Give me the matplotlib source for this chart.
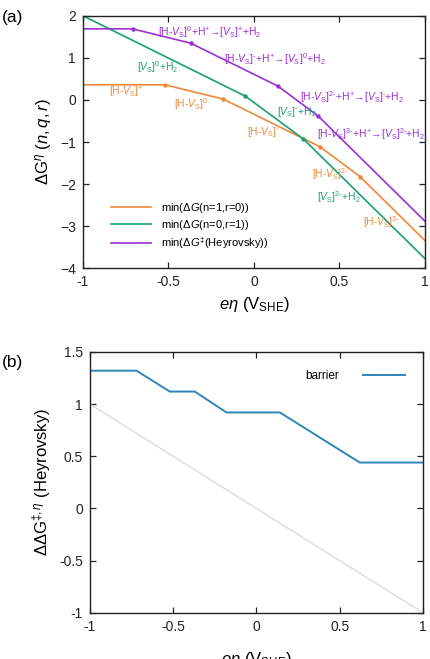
import matplotlib
matplotlib.use("Agg")
from matplotlib import pyplot as plt

plt.rcParams['font.family'] = ['Liberation Sans', 'DejaVu Sans']
plt.rcParams['mathtext.fontset'] = 'custom'
plt.rcParams['mathtext.rm'] = 'Liberation Sans'
plt.rcParams['mathtext.it'] = 'Liberation Sans:italic'
plt.rcParams['mathtext.bf'] = 'Liberation Sans:bold'

# panel (a): piecewise minima
eta_n1 = [-1, -0.52, -0.18, 0.385, 0.62, 1]
dG_n1 = [0.36, 0.36, 0.02, -1.11, -1.82, -3.34]
eta_n0 = [-1, -0.05, 0.29, 1]
dG_n0 = [2.0, 0.09, -0.93, -3.77]
eta_hey = [-1, -0.71, -0.37, 0.14, 0.375, 1]
dG_hey = [1.69, 1.69, 1.35, 0.33, -0.38, -2.88]

series_labels = [r"min($\mathit{\Delta G}$(n=1,r=0))",
                 r"min($\mathit{\Delta G}$(n=0,r=1))",
                 r"min($\mathit{\Delta G}^{\ddagger}$(Heyrovsky))"]

# panel (b)
eta_b = [-1, -0.72, -0.52, -0.37, -0.18, 0.14, 0.62, 1]
barrier = [1.32, 1.32, 1.12, 1.12, 0.92, 0.92, 0.44, 0.44]
ref_x = [-1, 1]
ref_y = [1, -1]

xticks = [-1, -0.5, 0, 0.5, 1]
xticklabels = ['-1', '-0.5', '0', '0.5', '1']

C_OR = '#f0883a'
C_GR = '#1a9e77'
C_PU = '#9b30d6'
C_BL = '#2e86b8'


def sup(s):
    return r"$^{\text{" + s + "}}$"


VS = r"$V_{\rm S}$"
HVS = "[H-" + VS + "]"
# (text, x, y, colour)
notes = [
    (HVS + sup("0") + "+H" + sup("+") + "→[" + VS + "]" + sup("+") + "+H$_2$", -0.56, 1.62, C_PU),
    (HVS + sup("-") + "+H" + sup("+") + "→[" + VS + "]" + sup("0") + "+H$_2$", -0.175, 0.98, C_PU),
    (HVS + sup("2-") + "+H" + sup("+") + "→[" + VS + "]" + sup("-") + "+H$_2$", 0.27, 0.07, C_PU),
    (HVS + sup("3-") + "+H" + sup("+") + "→[" + VS + "]" + sup("2-") + "+H$_2$", 0.37, -0.81, C_PU),
    ("[" + VS + "]" + sup("0") + "+H$_2$", -0.685, 0.79, C_GR),
    ("[" + VS + "]" + sup("-") + "+H$_2$", 0.135, -0.29, C_GR),
    ("[" + VS + "]" + sup("2-") + "+H$_2$", 0.37, -2.31, C_GR),
    (HVS + sup("+"), -0.85, 0.19, C_OR),
    (HVS + sup("0"), -0.47, -0.10, C_OR),
    (HVS + sup("-"), -0.04, -0.76, C_OR),
    (HVS + sup("2-"), 0.34, -1.76, C_OR),
    (HVS + sup("3-"), 0.64, -2.90, C_OR),
]


def style_axes(ax):
    ax.tick_params(direction='in', top=True, right=True, length=4, width=0.9,
                   labelsize=10, pad=5, colors='#222222')
    for s in ax.spines.values():
        s.set_linewidth(1.0)
        s.set_color('#222222')


fig = plt.figure(figsize=(4.30, 6.59), dpi=100)
ax1 = fig.add_axes([0.193, 0.593, 0.795, 0.383])
ax2 = fig.add_axes([0.209, 0.070, 0.775, 0.396])

# (a)
ax1.plot(eta_n1, dG_n1, color=C_OR, lw=1.2, marker='o', ms=2.2,
         markevery=list(range(1, len(eta_n1) - 1)), label=series_labels[0])
ax1.plot(eta_n0, dG_n0, color=C_GR, lw=1.2, marker='o', ms=2.2,
         markevery=list(range(1, len(eta_n0) - 1)), label=series_labels[1])
ax1.plot(eta_hey, dG_hey, color=C_PU, lw=1.2, marker='o', ms=2.2,
         markevery=list(range(1, len(eta_hey) - 1)), label=series_labels[2])
for txt, x, y, c in notes:
    ax1.text(x, y, txt, color=c, fontsize=7.5, ha='left', va='center')
ax1.set_xlim(-1, 1)
ax1.set_ylim(-4, 2)
ax1.set_xticks(xticks)
ax1.set_xticklabels(xticklabels)
ax1.set_yticks([-4, -3, -2, -1, 0, 1, 2])
style_axes(ax1)
ax1.set_xlabel(r"$e\eta$ (V$_{\rm SHE}$)", fontsize=12, labelpad=4)
ax1.set_ylabel(r"$\Delta$G$^{\eta}$ $\mathit{(n,q,r)}$", fontsize=12, labelpad=4)
leg = ax1.legend(loc='lower left', frameon=False, fontsize=8, handlelength=3.6,
                 handletextpad=0.9, labelspacing=0.3, bbox_to_anchor=(0.07, 0.05),
                 borderaxespad=0)
for h in leg.legend_handles:
    h.set_marker('')
fig.text(0.005, 0.974, "(a)", fontsize=12.5, va='center')

# (b)
ax2.plot(ref_x, ref_y, color='#dcdcdc', lw=1.0)
ax2.plot(eta_b, barrier, color=C_BL, lw=1.4, label='barrier')
ax2.set_xlim(-1, 1)
ax2.set_ylim(-1, 1.5)
ax2.set_xticks(xticks)
ax2.set_xticklabels(xticklabels)
ax2.set_yticks([-1, -0.5, 0, 0.5, 1, 1.5])
ax2.set_yticklabels(['-1', '-0.5', '0', '0.5', '1', '1.5'])
style_axes(ax2)
ax2.set_xlabel(r"$e\eta$ (V$_{\rm SHE}$)", fontsize=12, labelpad=12)
ax2.set_ylabel(r"$\Delta\Delta$G$^{\ddagger,\eta}$ (Heyrovsky)", fontsize=12, labelpad=4)
ax2.legend(loc='upper right', frameon=False, fontsize=8.5, markerfirst=False,
           handlelength=3.6, handletextpad=2.0, bbox_to_anchor=(0.96, 0.95),
           borderaxespad=0)
fig.text(0.005, 0.450, "(b)", fontsize=12.5, va='center')

fig.savefig("out.png", dpi=100)
